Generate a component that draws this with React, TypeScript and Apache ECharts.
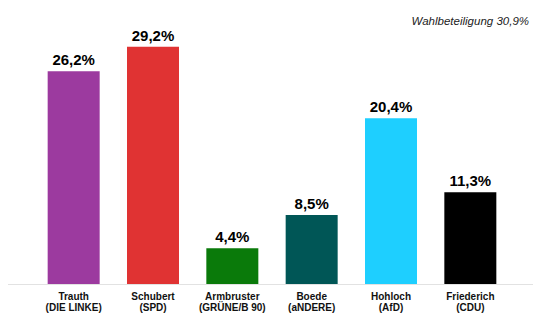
import React, { useEffect, useRef } from "react";
import * as echarts from "echarts";

const categories = [
  "Trauth\n(DIE LINKE)",
  "Schubert\n(SPD)",
  "Armbruster\n(GRÜNE/B 90)",
  "Boede\n(aNDERE)",
  "Hohloch\n(AfD)",
  "Friederich\n(CDU)",
];
const values = [26.2, 29.2, 4.4, 8.5, 20.4, 11.3];
const colors = ["#9c3a9f", "#e03333", "#0a7a0a", "#005656", "#1ecfff", "#000000"];
const turnoutText = "Wahlbeteiligung 30,9%";

export default function App() {
  const ref = useRef<HTMLDivElement>(null);
  useEffect(() => {
    if (!ref.current) return;
    const chart = echarts.init(ref.current, undefined, { renderer: "svg" });
    chart.setOption({
      animation: false,
      grid: { left: 34, right: 23, top: 24, bottom: 29, containLabel: false },
      xAxis: {
        type: "category",
        data: categories,
        axisLine: { show: false },
        axisTick: { show: false },
        axisLabel: {
          interval: 0,
          fontFamily: "Liberation Sans, Arial, sans-serif",
          fontWeight: "bold",
          fontSize: 10,
          lineHeight: 11,
          color: "#111",
          margin: 7,
        },
      },
      yAxis: { type: "value", min: 0, max: 32, show: false, splitLine: { show: false } },
      series: [
        {
          type: "bar",
          barWidth: 52,
          data: values.map((v, i) => ({ value: v, itemStyle: { color: colors[i] } })),
          label: {
            show: true,
            position: "top",
            distance: 4,
            formatter: (p: any) => p.value.toFixed(1).replace(".", ",") + "%",
            fontFamily: "Liberation Sans, Arial, sans-serif",
            fontWeight: "bold",
            fontSize: 15,
            color: "#000",
          },
        },
      ],
      graphic: [
        {
          type: "line",
          shape: { x1: 8, y1: 284.5, x2: 533, y2: 284.5 },
          style: { stroke: "#e2e2e2", lineWidth: 1 },
          z: 0,
        },
        {
          type: "text",
          right: 4,
          top: 15,
          style: {
            text: turnoutText,
            fontFamily: "Liberation Sans, Arial, sans-serif",
            fontStyle: "italic",
            fontSize: 11.5,
            fill: "#222",
          },
        },
      ],
    });
    return () => chart.dispose();
  }, []);
  return <div ref={ref} style={{ width: 533, height: 313, position: "absolute", left: 0, top: 0 }} />;
}
